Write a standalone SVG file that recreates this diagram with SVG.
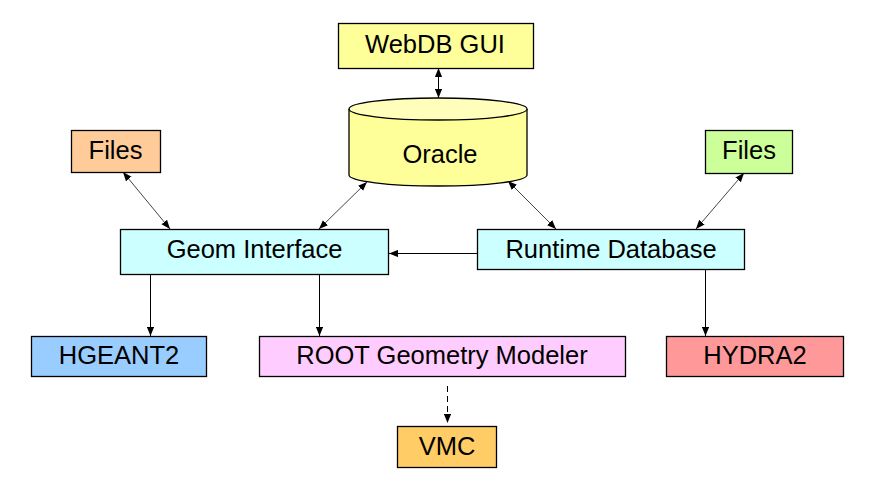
<svg xmlns="http://www.w3.org/2000/svg" width="873" height="487" viewBox="0 0 873 487">
<defs>
<marker id="ah" viewBox="0 0 10 8" refX="10" refY="4" markerWidth="9" markerHeight="7.5" markerUnits="userSpaceOnUse" orient="auto-start-reverse">
<path d="M0,0 L10,4 L0,8 z" fill="#000"/>
</marker>
</defs>
<style>
.box{stroke:#000;stroke-width:1.3}
.t{font-family:"Liberation Sans",Arial,sans-serif;font-size:25.5px;fill:#000;text-anchor:middle}
.c{stroke:#000;stroke-width:1;fill:none}
.d{stroke:#444;stroke-width:1;fill:none}
</style>
<rect width="873" height="487" fill="#fff"/>
<g id="connectors">
<line class="c" x1="438.5" y1="68" x2="438.5" y2="98" marker-start="url(#ah)" marker-end="url(#ah)"/>
<line class="d" x1="123" y1="172" x2="170" y2="229" marker-start="url(#ah)" marker-end="url(#ah)"/>
<line class="d" x1="367" y1="182" x2="319" y2="229" marker-start="url(#ah)" marker-end="url(#ah)"/>
<line class="d" x1="508" y1="181" x2="556" y2="229" marker-start="url(#ah)" marker-end="url(#ah)"/>
<line class="d" x1="744" y1="173" x2="696" y2="229" marker-start="url(#ah)" marker-end="url(#ah)"/>
<line class="c" x1="477" y1="253.5" x2="389" y2="253.5" marker-end="url(#ah)"/>
<line class="c" x1="150.5" y1="270" x2="150.5" y2="336" marker-end="url(#ah)"/>
<line class="c" x1="319.5" y1="270" x2="319.5" y2="336" marker-end="url(#ah)"/>
<line class="c" x1="705.5" y1="269" x2="705.5" y2="336" marker-end="url(#ah)"/>
<line class="c" x1="447.5" y1="386" x2="447.5" y2="423" stroke-dasharray="6,4" marker-end="url(#ah)"/>
</g>
<g id="webdb">
<rect class="box" x="338.5" y="23.5" width="195" height="45" fill="#FFFF99"/>
<text class="t" x="435" y="53">WebDB GUI</text>
</g>
<g id="oracle">
<path class="box" d="M349,109 L349,175 A89,11 0 0 0 527,175 L527,109" fill="#FFFF99"/>
<ellipse class="box" cx="438" cy="109" rx="89" ry="11" fill="#FFFFBB"/>
<text class="t" x="440" y="163">Oracle</text>
</g>
<g id="files-left">
<rect class="box" x="71.5" y="130.5" width="89" height="42" fill="#FFCC99"/>
<text class="t" x="115.5" y="159">Files</text>
</g>
<g id="files-right">
<rect class="box" x="705.5" y="130.5" width="87" height="43" fill="#CCFF99"/>
<text class="t" x="749" y="159">Files</text>
</g>
<g id="geom">
<rect class="box" x="120.5" y="229.5" width="268" height="45" fill="#CCFFFF"/>
<text class="t" x="254.5" y="258">Geom Interface</text>
</g>
<g id="runtime">
<rect class="box" x="477.5" y="229.5" width="267" height="40" fill="#CCFFFF"/>
<text class="t" x="611" y="258">Runtime Database</text>
</g>
<g id="hgeant2">
<rect class="box" x="31.5" y="336.5" width="175" height="40" fill="#99CCFF"/>
<text class="t" x="119" y="364">HGEANT2</text>
</g>
<g id="root">
<rect class="box" x="259.5" y="336.5" width="366" height="40" fill="#FFCCFF"/>
<text class="t" x="442" y="364">ROOT Geometry Modeler</text>
</g>
<g id="hydra2">
<rect class="box" x="666.5" y="336.5" width="177" height="40" fill="#FF9999"/>
<text class="t" x="755" y="364">HYDRA2</text>
</g>
<g id="vmc">
<rect class="box" x="397.5" y="426.5" width="99" height="41" fill="#FFCC66"/>
<text class="t" x="447" y="455">VMC</text>
</g>
</svg>
